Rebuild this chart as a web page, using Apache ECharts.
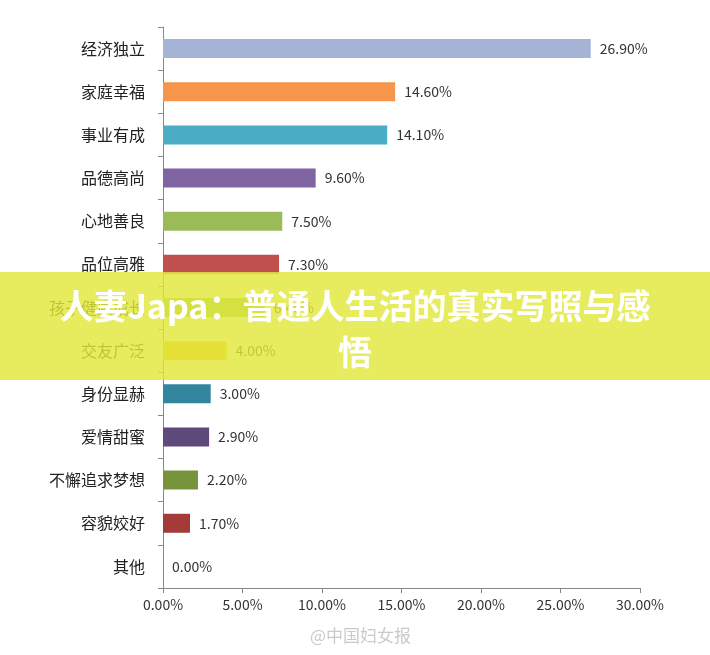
<!DOCTYPE html>
<html><head><meta charset="utf-8">
<script src="https://cdn.jsdelivr.net/npm/echarts@6/dist/echarts.min.js"></script>
<style>html,body{margin:0;padding:0;background:#fff}#c{width:710px;height:655px}</style>
</head><body><div id="c"></div>
<script>
const categories = ['经济独立','家庭幸福','事业有成','品德高尚','心地善良','品位高雅','孩子健康成长','交友广泛','身份显赫','爱情甜蜜','不懈追求梦想','容貌姣好','其他'];
const values = [26.9,14.6,14.1,9.6,7.5,7.3,6.4,4.0,3.0,2.9,2.2,1.7,0.0];
const colors = ['#a5b3d6','#f7964a','#4bacc6','#8064a2','#9bbb59','#c0504d','#9bbb59','#f7c423','#31859c','#604a7b','#77933c','#a33b38','#4f81bd'];
const titleLines = ['人妻Japa：普通人生活的真实写照与感','悟'];
const chart = echarts.init(document.getElementById('c'));
const font = '"Noto Sans CJK SC", sans-serif';
chart.setOption({
  animation:false,
  grid:{left:163,right:70,top:27,bottom:67},
  xAxis:{type:'value',min:0,max:30,interval:5,
    axisLabel:{formatter:v=>v.toFixed(2)+'%',color:'#333',fontSize:14,fontFamily:font,margin:10},
    axisLine:{show:true,lineStyle:{color:'#888'}},axisTick:{show:true,lineStyle:{color:'#888'}},
    splitLine:{show:false}},
  yAxis:{type:'category',inverse:true,data:categories,
    axisLabel:{color:'#222',fontSize:16,fontFamily:font,margin:18},
    axisLine:{lineStyle:{color:'#888'}},axisTick:{show:true,length:5,lineStyle:{color:'#888'}}},
  series:[{type:'bar',barWidth:19,
    data:values.map((v,i)=>({value:v,itemStyle:{color:colors[i]}})),
    label:{show:true,position:'right',distance:9,formatter:p=>p.value.toFixed(2)+'%',color:'#333',fontSize:14,fontFamily:font}}],
  graphic:[
    {type:'rect',shape:{x:0,y:272,width:710,height:108},style:{fill:'rgba(226,232,60,0.82)'},z:100},
    {type:'text',x:355,y:283,z:101,style:{text:titleLines.join('\n'),fill:'#fff',font:'bold 34px '+font,align:'center',verticalAlign:'top',lineHeight:46,
      shadowColor:'rgba(0,0,0,0.2)',shadowBlur:2}},
    {type:'text',left:310,top:627,z:101,style:{text:'@中国妇女报',fill:'rgba(150,150,150,0.5)',font:'17px '+font}}
  ]
});
</script></body></html>
